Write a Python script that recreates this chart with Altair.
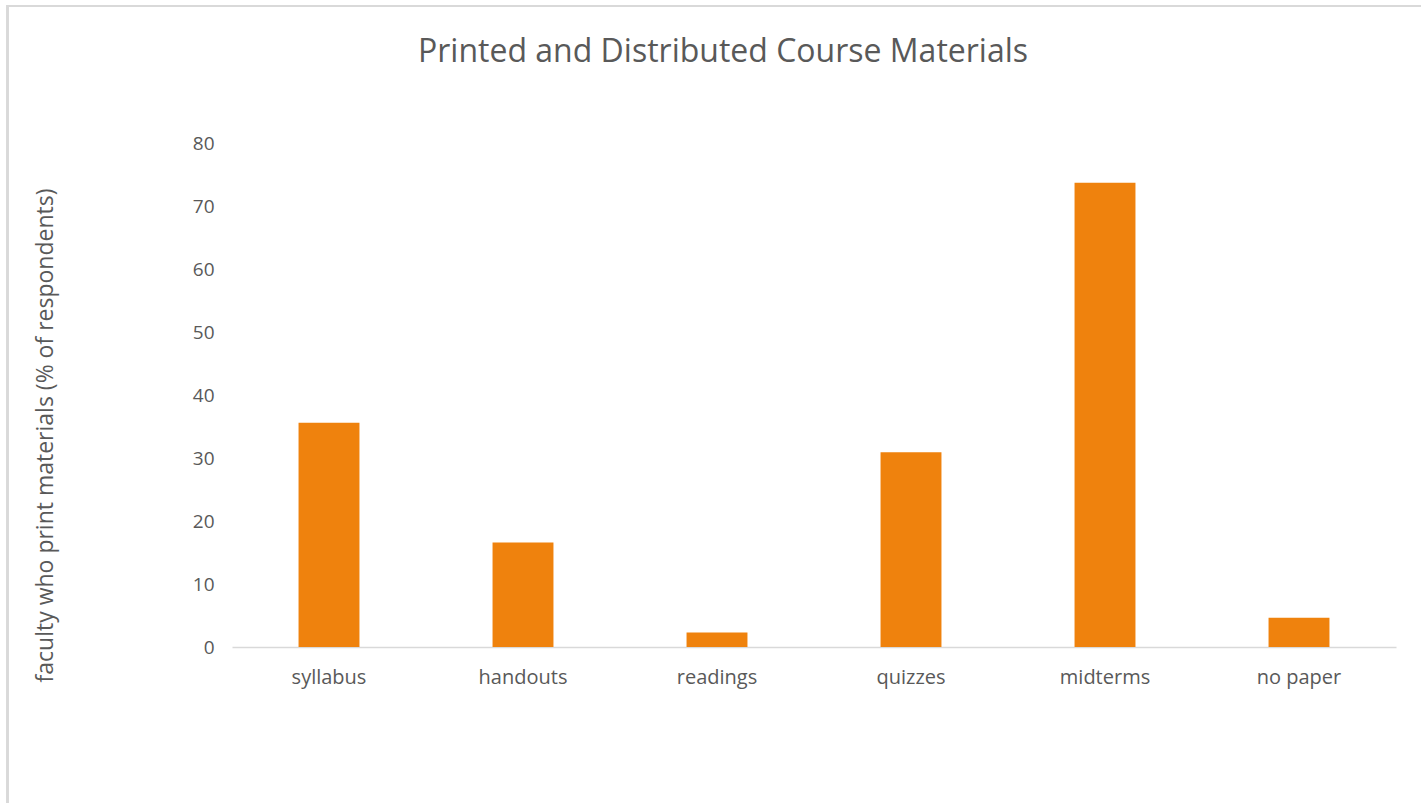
import altair as alt
import pandas as pd

categories = ["syllabus", "handouts", "readings", "quizzes", "midterms", "no paper"]
percent_printing = [35.6, 16.6, 2.3, 30.9, 73.7, 4.65]
y_ticks = [0, 10, 20, 30, 40, 50, 60, 70, 80]

df = pd.DataFrame({"material": categories, "pct": percent_printing})

FONT = "Open Sans"
TEXT = "#595959"
LINE = "#D9D9D9"

W, H = 1164, 504
LEFT, TOP = 232, 143
RIGHT, BOTTOM = 1421 - LEFT - W, 803 - TOP - H

bars = alt.Chart(df).mark_bar(color="#EF820D").encode(
    x=alt.X(
        "material:N",
        sort=categories,
        scale=alt.Scale(paddingInner=0.686, paddingOuter=0.343),
        axis=alt.Axis(
            title=None, labelAngle=0, ticks=False, domainColor=LINE,
            domainWidth=1.5, labelPadding=20, labelFontSize=20,
            labelColor=TEXT, labelFont=FONT,
        ),
    ),
    y=alt.Y(
        "pct:Q",
        scale=alt.Scale(domain=[0, 80], nice=False),
        axis=alt.Axis(
            values=y_ticks, grid=False, domain=False, ticks=False,
            labelPadding=18, labelFontSize=19, labelColor=TEXT, labelFont=FONT,
            title="faculty who print materials (% of respondents)",
            titleFontSize=23, titleFontWeight="normal", titleColor=TEXT,
            titleFont=FONT, titleX=-187, titleY=292, titleAngle=270,
            titleBaseline="middle", titleAlign="center",
        ),
    ),
)

# light frame around the whole chart
frame = alt.Chart(df).mark_rect(
    fill=None, stroke=LINE, strokeWidth=2
).encode(
    x=alt.value(7.5 - LEFT), x2=alt.value(1430 - LEFT),
    y=alt.value(6 - TOP), y2=alt.value(812 - TOP),
)

chart = alt.layer(frame, bars).properties(
    width=W, height=H,
    padding={"left": LEFT, "top": TOP, "right": RIGHT, "bottom": BOTTOM},
    autosize=alt.AutoSizeParams(type="none"),
    title=alt.TitleParams(
        "Printed and Distributed Course Materials",
        fontSize=32, font=FONT, fontWeight="normal", color=TEXT,
        anchor="middle", frame="group", dx=-91, offset=-79, baseline="middle",
    ),
    background="white",
).configure_view(stroke=None)

chart.save("out.html", embed_options={"renderer": "svg", "actions": False})
